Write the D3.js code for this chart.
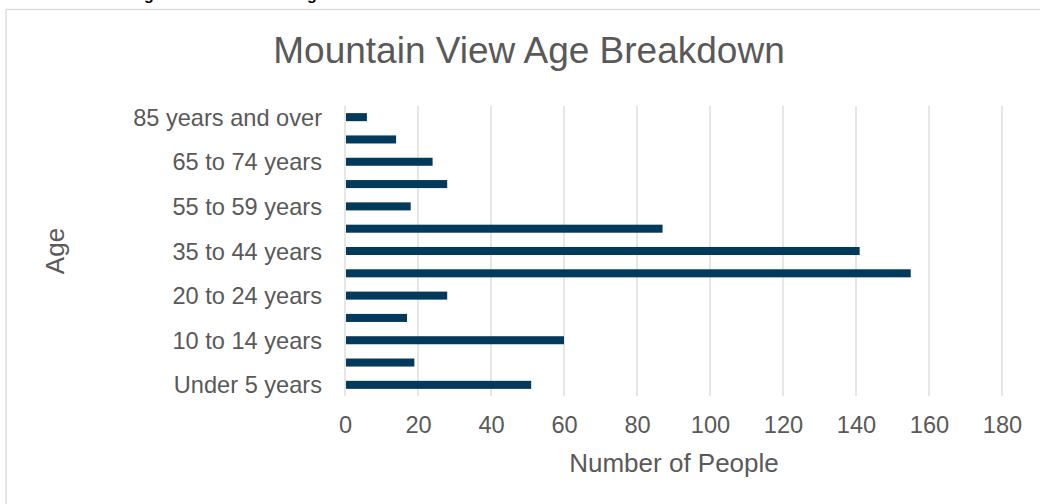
<!DOCTYPE html>
<html lang="en">
<head>
    <meta charset="UTF-8">
    <title>Mountain View Age Breakdown</title>
    <style>
        html, body { margin: 0; padding: 0; background: #fff; overflow: hidden; }
        svg { display: block; font-family: "Liberation Sans", Arial, sans-serif; }
    </style>
</head>
<body>
    <svg id="chart" width="1040" height="504"></svg>

    <script src="https://d3js.org/d3.v7.min.js"></script>
    <script>
        // data, bottom to top as in the chart
        const ageGroups = [
            'Under 5 years', '5 to 9 years', '10 to 14 years', '15 to 19 years',
            '20 to 24 years', '25 to 34 years', '35 to 44 years', '45 to 54 years',
            '55 to 59 years', '60 to 64 years', '65 to 74 years', '75 to 84 years',
            '85 years and over'
        ];
        const people = [51, 19, 60, 17, 28, 155, 141, 87, 18, 28, 24, 14, 6];
        const xTicks = [0, 20, 40, 60, 80, 100, 120, 140, 160, 180];

        const svg = d3.select('#chart');
        const margin = { left: 345, right: 38, top: 106, bottom: 108 };
        const W = 1040, H = 504;
        const font = '"Liberation Sans", Arial, sans-serif';
        const grey = '#595959';

        // chart frame (runs off the window right and bottom)
        svg.append('rect')
            .attr('x', 6).attr('y', 9.5)
            .attr('width', 1100).attr('height', 600)
            .attr('fill', 'none')
            .attr('stroke', '#d9d9d9')
            .attr('stroke-width', 1.3);

        // cut-off caption above the frame
        svg.append('text').attr('x', 144).attr('y', 0)
            .attr('font-weight', 'bold').attr('font-size', 16).text('g');
        svg.append('text').attr('x', 307).attr('y', 0)
            .attr('font-weight', 'bold').attr('font-size', 16).text('g');

        const x = d3.scaleLinear()
            .domain([0, 180])
            .range([margin.left, W - margin.right]);

        const y = d3.scaleBand()
            .domain(ageGroups.slice().reverse())
            .range([margin.top, H - margin.bottom])
            .paddingInner(0.64)
            .paddingOuter(0.32);

        // gridlines
        svg.append('g')
            .selectAll('line')
            .data(xTicks)
            .join('line')
            .attr('x1', d => x(d)).attr('x2', d => x(d))
            .attr('y1', margin.top).attr('y2', H - margin.bottom)
            .attr('stroke', '#d9d9d9')
            .attr('stroke-width', 1.3);

        // bars
        svg.append('g')
            .selectAll('rect')
            .data(ageGroups)
            .join('rect')
            .attr('x', x(0) + 1)
            .attr('y', d => y(d))
            .attr('width', (d, i) => x(people[i]) - x(0) - 1)
            .attr('height', y.bandwidth())
            .attr('fill', '#03395b');

        // x axis
        const xAxis = d3.axisBottom(x).tickValues(xTicks).tickSize(0).tickPadding(20);
        const gx = svg.append('g')
            .attr('transform', `translate(0,${H - margin.bottom})`)
            .call(xAxis);
        gx.select('.domain').remove();
        gx.selectAll('text')
            .attr('font-size', 23.6)
            .attr('font-family', font)
            .attr('fill', grey);

        // y axis, every other label
        const yAxis = d3.axisLeft(y)
            .tickValues(ageGroups.filter((d, i) => i % 2 === 0))
            .tickSize(0).tickPadding(23);
        const gy = svg.append('g')
            .attr('transform', `translate(${margin.left},0)`)
            .call(yAxis);
        gy.select('.domain').remove();
        gy.selectAll('text')
            .attr('font-size', 23.6)
            .attr('font-family', font)
            .attr('fill', grey)
            .attr('dy', '0.36em');

        // titles
        svg.append('text')
            .attr('x', 529).attr('y', 63)
            .attr('text-anchor', 'middle')
            .attr('font-size', 37)
            .attr('fill', grey)
            .text('Mountain View Age Breakdown');

        svg.append('text')
            .attr('x', 674).attr('y', 472)
            .attr('text-anchor', 'middle')
            .attr('font-size', 26)
            .attr('fill', grey)
            .text('Number of People');

        svg.append('text')
            .attr('transform', `translate(64,${(margin.top + H - margin.bottom) / 2}) rotate(-90)`)
            .attr('text-anchor', 'middle')
            .attr('font-size', 26)
            .attr('fill', grey)
            .text('Age');
    </script>
</body>
</html>
